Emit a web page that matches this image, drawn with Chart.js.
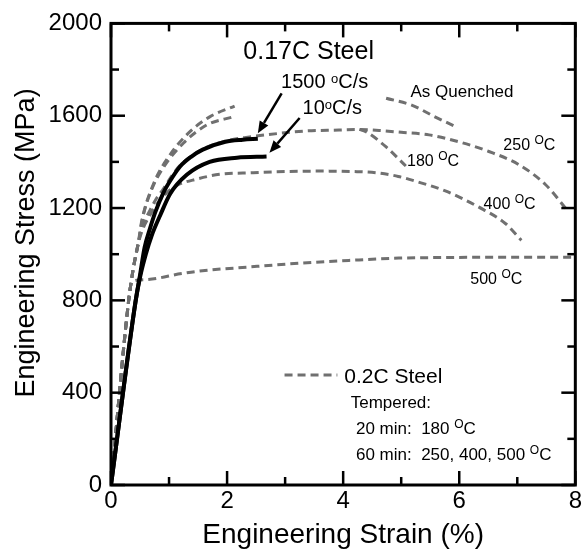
<!DOCTYPE html>
<html>
<head>
<meta charset="utf-8">
<script src="https://cdn.jsdelivr.net/npm/chart.js@4.4.0/dist/chart.umd.min.js"></script>
<style>
  html, body { margin: 0; padding: 0; background: #fff; }
  #stressChart { display: block; }
</style>
</head>
<body>
<canvas id="stressChart" width="584" height="555"></canvas>
<script>
// 0.17C steel, quenched at 1500 and 10 C/s (solid curves)
const strain1500 = [0, 0.42, 0.5, 0.58, 0.67, 0.76, 0.9, 1.05, 1.19, 1.38, 1.58, 1.97, 2.27, 2.53];
const stress1500 = [0, 790, 910, 1030, 1110, 1180, 1265, 1330, 1380, 1422, 1453, 1487, 1496, 1500];
const strain10 = [0, 0.42, 0.5, 0.6, 0.7, 0.85, 1.02, 1.31, 1.7, 2.17, 2.68];
const stress10 = [0, 790, 900, 1000, 1080, 1170, 1262, 1345, 1400, 1418, 1423];

// 0.2C steel, as quenched and tempered (dashed curves), null = hidden stretch
const strainAQ = [0, 0.3, 0.38, 0.47, 0.52, 0.73, 1.02, 1.36, 1.7, 2.13, 3.4, 4.74, 5.19, 5.59, 5.96];
const stressAQ = [0, 790, 932, 1047, 1132, 1303, 1432, 1531, 1595, 1642, null, 1676, 1645, 1594, 1550];
const strain180 = [0, 0.3, 0.38, 0.47, 0.55, 0.7, 0.9, 1.25, 1.65, 2.1, 3.2, 4.28, 4.39, 4.73, 5.08];
const stress180 = [0, 790, 932, 1047, 1162, 1280, 1375, 1482, 1560, 1595, null, 1541, 1531, 1467, 1382];
const strain250 = [0, 0.3, 0.38, 0.47, 0.55, 0.65, 0.78, 0.9, 1.05, 1.19, 1.58, 1.97, 2.3, 2.6, 3.36, 3.93, 4.22, 4.62, 5.0, 5.48, 6.05, 6.51, 7.02, 7.48, 7.87];
const stress250 = [0, 790, 932, 1047, 1130, 1180, 1240, 1282, 1340, 1385, 1455, 1490, 1505, 1515, 1534, 1538, 1540, 1536, 1528, 1517, 1483, 1445, 1389, 1303, 1188];
const strain400 = [0, 0.3, 0.38, 0.47, 0.55, 0.65, 0.8, 1.0, 1.15, 1.47, 1.87, 2.45, 3.0, 3.6, 4.2, 4.6, 4.95, 5.25, 5.76, 6.33, 6.8, 7.07];
const stress400 = [0, 790, 932, 1047, 1110, 1160, 1220, 1275, 1300, 1325, 1346, 1353, 1358, 1360, 1358, 1352, 1337, 1316, 1274, 1205, 1132, 1060];
const strain500 = [0, 0.3, 0.36, 0.59, 1.22, 1.53, 2.4, 3.25, 4.1, 4.96, 6.0, 7.0, 8.0];
const stress500 = [0, 790, 880, 890, 916, 927, 945, 961, 973, 983, 986, 987, 987];

const strainTicks = [0, 2, 4, 6, 8];
const strainMinor = [1, 3, 5, 7];
const stressTicks = [0, 400, 800, 1200, 1600, 2000];
const stressMinor = [200, 600, 1000, 1400, 1800];

const FONT = "'Liberation Sans', Arial, sans-serif";
const GREY = '#707070';

Chart.defaults.font.family = FONT;
Chart.defaults.color = '#000';

const pts = (xs, ys) => xs.map((x, i) => ({ x: x, y: ys[i] }));

function solid(label, xs, ys) {
    return {
        label: label, data: pts(xs, ys),
        borderColor: '#000', borderWidth: 4,
        pointRadius: 0, showLine: true, fill: false,
        cubicInterpolationMode: 'monotone', order: 0
    };
}

function dashed(label, xs, ys) {
    return {
        label: label, data: pts(xs, ys),
        borderColor: GREY, borderWidth: 3, borderDash: [8, 5],
        pointRadius: 0, showLine: true, fill: false, spanGaps: false,
        cubicInterpolationMode: 'monotone', order: 1
    };
}

// text next to the curves, anchored in data units (left edge, baseline)
const notes = [
    { x: 2.28, y: 1845, parts: [{ t: '0.17C Steel', s: 25 }] },
    { x: 2.93, y: 1719, parts: [{ t: '1500 ', s: 20 }, { t: 'o', s: 13, r: 5 }, { t: 'C/s', s: 20 }] },
    { x: 3.30, y: 1606, parts: [{ t: '10', s: 20 }, { t: 'o', s: 13, r: 5 }, { t: 'C/s', s: 20 }] },
    { x: 5.16, y: 1681, parts: [{ t: 'As Quenched', s: 17 }] },
    { x: 6.76, y: 1453, parts: [{ t: '250 ', s: 16 }, { t: 'O', s: 12, r: 6 }, { t: 'C', s: 16 }] },
    { x: 5.10, y: 1382, parts: [{ t: '180 ', s: 16 }, { t: 'O', s: 12, r: 6 }, { t: 'C', s: 16 }] },
    { x: 6.42, y: 1197, parts: [{ t: '400 ', s: 16 }, { t: 'O', s: 12, r: 6 }, { t: 'C', s: 16 }] },
    { x: 6.19, y: 869, parts: [{ t: '500 ', s: 16 }, { t: 'O', s: 12, r: 6 }, { t: 'C', s: 16 }] },
    { x: 4.02, y: 441, parts: [{ t: '0.2C Steel', s: 21 }] },
    { x: 4.13, y: 335, parts: [{ t: 'Tempered:', s: 17 }] },
    { x: 4.22, y: 221, parts: [{ t: '20 min:  180 ', s: 17 }, { t: 'O', s: 12, r: 6 }, { t: 'C', s: 17 }] },
    { x: 4.22, y: 107, parts: [{ t: '60 min:  250, 400, 500 ', s: 17 }, { t: 'O', s: 12, r: 6 }, { t: 'C', s: 17 }] }
];

const arrows = [
    { from: [2.94, 1697], to: [2.53, 1524] },
    { from: [3.25, 1590], to: [2.73, 1440] }
];

const legendLine = { x0: 2.99, x1: 3.90, y: 477 };

function drawArrow(ctx, x0, y0, x1, y1) {
    const ang = Math.atan2(y1 - y0, x1 - x0);
    const head = 12, half = 5;
    const bx = x1 - head * Math.cos(ang), by = y1 - head * Math.sin(ang);
    ctx.beginPath();
    ctx.moveTo(x0, y0);
    ctx.lineTo(bx, by);
    ctx.stroke();
    ctx.beginPath();
    ctx.moveTo(x1, y1);
    ctx.lineTo(bx + half * Math.sin(ang), by - half * Math.cos(ang));
    ctx.lineTo(bx - half * Math.sin(ang), by + half * Math.cos(ang));
    ctx.closePath();
    ctx.fill();
}

const frameAndNotes = {
    id: 'frameAndNotes',
    afterDatasetsDraw(chart) {
        const ctx = chart.ctx;
        const area = chart.chartArea;
        const xs = chart.scales.x, ys = chart.scales.y;
        ctx.save();
        ctx.strokeStyle = '#000';
        ctx.fillStyle = '#000';

        // box and inward ticks on all four sides
        ctx.lineWidth = 3;
        ctx.strokeRect(area.left, area.top, area.right - area.left, area.bottom - area.top);
        ctx.lineWidth = 2.5;
        const tick = (x0, y0, x1, y1) => { ctx.beginPath(); ctx.moveTo(x0, y0); ctx.lineTo(x1, y1); ctx.stroke(); };
        strainTicks.concat(strainMinor).forEach(v => {
            const len = strainTicks.includes(v) ? 14 : 8;
            const px = xs.getPixelForValue(v);
            tick(px, area.bottom, px, area.bottom - len);
            tick(px, area.top, px, area.top + len);
        });
        stressTicks.concat(stressMinor).forEach(v => {
            const len = stressTicks.includes(v) ? 14 : 8;
            const py = ys.getPixelForValue(v);
            tick(area.left, py, area.left + len, py);
            tick(area.right, py, area.right - len, py);
        });

        // arrows to the 0.17C curves
        ctx.lineWidth = 2.5;
        arrows.forEach(a => {
            drawArrow(ctx, xs.getPixelForValue(a.from[0]), ys.getPixelForValue(a.from[1]),
                xs.getPixelForValue(a.to[0]), ys.getPixelForValue(a.to[1]));
        });

        // dashed sample for the 0.2C key
        ctx.strokeStyle = GREY;
        ctx.lineWidth = 3;
        ctx.setLineDash([8, 5]);
        tick(xs.getPixelForValue(legendLine.x0), ys.getPixelForValue(legendLine.y),
            xs.getPixelForValue(legendLine.x1), ys.getPixelForValue(legendLine.y));
        ctx.setLineDash([]);

        // labels with raised degree marks
        ctx.fillStyle = '#000';
        ctx.textBaseline = 'alphabetic';
        ctx.textAlign = 'left';
        notes.forEach(n => {
            let cx = xs.getPixelForValue(n.x);
            const cy = ys.getPixelForValue(n.y);
            n.parts.forEach(p => {
                ctx.font = p.s + 'px ' + FONT;
                ctx.fillText(p.t, cx, cy - (p.r || 0));
                cx += ctx.measureText(p.t).width;
            });
        });
        ctx.restore();
    }
};

new Chart(document.getElementById('stressChart'), {
    type: 'scatter',
    data: {
        datasets: [
            solid('1500 C/s', strain1500, stress1500),
            solid('10 C/s', strain10, stress10),
            dashed('As Quenched', strainAQ, stressAQ),
            dashed('180 C', strain180, stress180),
            dashed('250 C', strain250, stress250),
            dashed('400 C', strain400, stress400),
            dashed('500 C', strain500, stress500)
        ]
    },
    options: {
        responsive: false,
        animation: false,
        devicePixelRatio: 1,
        layout: { autoPadding: false, padding: { left: 0, top: 17, right: 7, bottom: 0 } },
        plugins: { legend: { display: false }, tooltip: { enabled: false } },
        scales: {
            x: {
                type: 'linear', min: 0, max: 8,
                afterBuildTicks: s => { s.ticks = strainTicks.map(v => ({ value: v })); },
                afterFit: s => { s.height = 70; },
                ticks: { font: { size: 24 }, color: '#000', padding: 2, maxRotation: 0, callback: v => String(v) },
                grid: { display: false, drawTicks: false },
                border: { display: false },
                title: { display: true, text: 'Engineering Strain (%)', font: { size: 28 }, color: '#000', padding: { top: 0, bottom: 3 } }
            },
            y: {
                type: 'linear', min: 0, max: 2000,
                afterBuildTicks: s => { s.ticks = stressTicks.map(v => ({ value: v })); },
                afterFit: s => { s.width = 111; },
                ticks: { font: { size: 24 }, color: '#000', padding: 9, callback: v => String(v) },
                grid: { display: false, drawTicks: false },
                border: { display: false },
                // leading spaces lift the centred title a little toward the top
                title: { display: true, text: '   Engineering Stress (MPa)', font: { size: 27 }, color: '#000', padding: { top: 10, bottom: 0 } }
            }
        }
    },
    plugins: [frameAndNotes]
});
</script>
</body>
</html>
